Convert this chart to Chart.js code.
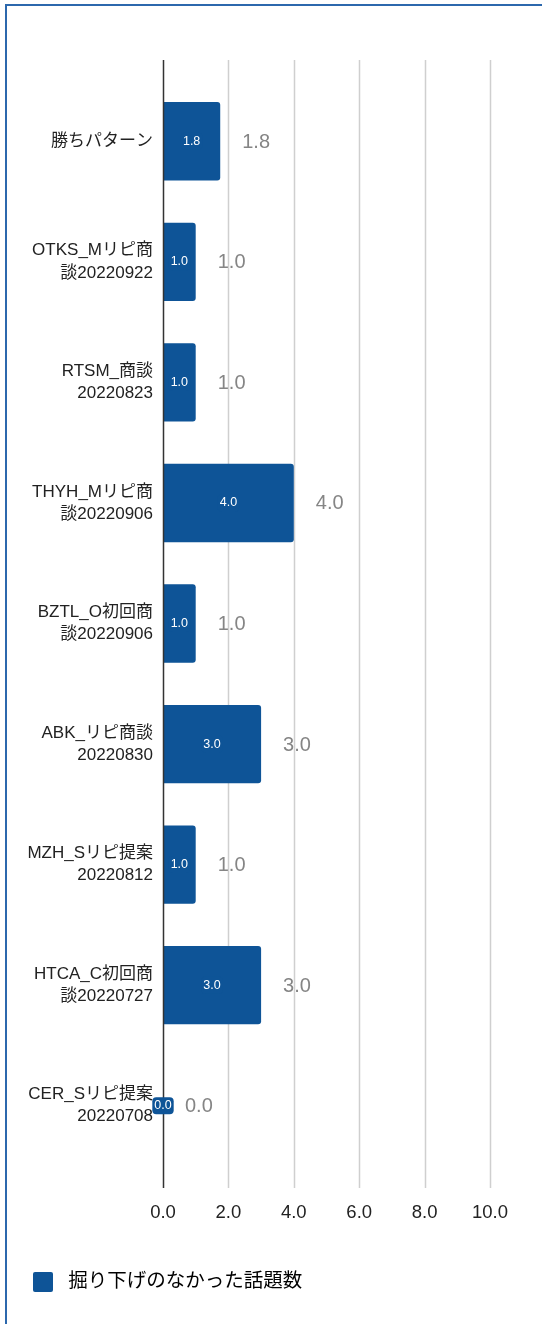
<!DOCTYPE html>
<html>
<head>
<meta charset="utf-8">
<script src="https://cdn.jsdelivr.net/npm/chart.js@4/dist/chart.umd.min.js"></script>
<style>
html, body { margin: 0; padding: 0; background: #fff; overflow: hidden; }
#frame { position: absolute; left: 5px; top: 4px; width: 600px; height: 1400px;
         border-top: 2px solid #2c68ad; border-left: 2px solid #2c68ad; }
#wrap { position: absolute; left: 0; top: 0; width: 542px; height: 1324px; }
</style>
</head>
<body>
<div id="frame"></div>
<div id="wrap"><canvas id="chart"></canvas></div>
<script>
// categories (each one split in the lines shown on the axis)
var categories = [
  ["勝ちパターン"],
  ["OTKS_Mリピ商", "談20220922"],
  ["RTSM_商談", "20220823"],
  ["THYH_Mリピ商", "談20220906"],
  ["BZTL_O初回商", "談20220906"],
  ["ABK_リピ商談", "20220830"],
  ["MZH_Sリピ提案", "20220812"],
  ["HTCA_C初回商", "談20220727"],
  ["CER_Sリピ提案", "20220708"]
];
var values = [1.75, 1.0, 1.0, 4.0, 1.0, 3.0, 1.0, 3.0, 0.0];
var seriesName = "掘り下げのなかった話題数";
var xMin = 0, xMax = 10, xStep = 2;

var barColor = "#0e5497";
var fontFam = "Arial, 'Liberation Sans', 'Noto Sans CJK JP', sans-serif";

// grid lines drawn a bit past the plot area, like the original
var longGrid = {
  id: "longGrid",
  beforeDatasetsDraw: function(chart) {
    var ctx = chart.ctx, a = chart.chartArea, sx = chart.scales.x;
    ctx.save();
    sx.ticks.forEach(function(t) {
      if (t.value === 0) return;
      var px = Math.round(sx.getPixelForValue(t.value)) + 0.5;
      ctx.strokeStyle = "#cfcfcf";
      ctx.lineWidth = 1.5;
      ctx.beginPath();
      ctx.moveTo(px, a.top - 21);
      ctx.lineTo(px, a.bottom + 22);
      ctx.stroke();
    });
    ctx.restore();
  },
  afterDatasetsDraw: function(chart) {
    var ctx = chart.ctx, a = chart.chartArea, sx = chart.scales.x;
    var px = Math.round(sx.getPixelForValue(0)) + 0.5;
    ctx.save();
    ctx.strokeStyle = "#333";
    ctx.lineWidth = 1.5;
    ctx.beginPath();
    ctx.moveTo(px, a.top - 21);
    ctx.lineTo(px, a.bottom + 22);
    ctx.stroke();
    ctx.restore();
  }
};

// value labels: one inside the bar, one after it
var barLabels = {
  id: "barLabels",
  afterDraw: function(chart) {
    var ctx = chart.ctx;
    var meta = chart.getDatasetMeta(0);
    ctx.save();
    meta.data.forEach(function(bar, i) {
      var txt = values[i].toFixed(1);
      var cx = (bar.x + bar.base) / 2;
      ctx.font = "12.5px " + fontFam;
      var w = ctx.measureText(txt).width + 4;
      ctx.fillStyle = barColor;
      ctx.beginPath();
      ctx.roundRect(cx - w / 2, bar.y - 8.5, w, 17, 4);
      ctx.fill();
      ctx.fillStyle = "#fff";
      ctx.textAlign = "center";
      ctx.textBaseline = "middle";
      ctx.fillText(txt, cx, bar.y);

      ctx.font = "20px " + fontFam;
      ctx.fillStyle = "#858585";
      ctx.textAlign = "left";
      ctx.fillText(txt, bar.x + 22, bar.y + 1);
    });
    ctx.restore();
  }
};

new Chart(document.getElementById("chart"), {
  type: "bar",
  data: {
    labels: categories,
    datasets: [{
      label: seriesName,
      data: values,
      backgroundColor: barColor,
      borderRadius: 3,
      borderSkipped: "start",
      barPercentage: 0.65,
      categoryPercentage: 1.0
    }]
  },
  options: {
    indexAxis: "y",
    responsive: true,
    maintainAspectRatio: false,
    animation: false,
    layout: { padding: { top: 81, left: 23, right: 52, bottom: 22 } },
    scales: {
      x: {
        min: xMin, max: xMax,
        ticks: {
          stepSize: xStep,
          color: "#222",
          padding: 28,
          font: { family: fontFam, size: 18.5 },
          callback: function(v) { return Number(v).toFixed(1); }
        },
        grid: { display: false },
        border: { display: false },
        afterFit: function(s) { s.height = 96; }
      },
      y: {
        ticks: {
          color: "#222",
          padding: 2,
          crossAlign: "near",
          font: { family: fontFam, size: 17, lineHeight: 1.3 }
        },
        grid: { display: false },
        border: { display: false },
        afterFit: function(s) { s.width = 140; }
      }
    },
    plugins: {
      legend: {
        position: "bottom",
        align: "start",
        labels: {
          boxWidth: 20,
          boxHeight: 20,
          color: "#333",
          font: { family: fontFam, size: 19.5 },
          generateLabels: function(chart) {
            return [{
              text: " " + seriesName,
              fillStyle: barColor,
              strokeStyle: barColor,
              lineWidth: 0,
              borderRadius: 2,
              datasetIndex: 0
            }];
          }
        }
      },
      tooltip: { enabled: false }
    }
  },
  plugins: [longGrid, barLabels]
});
</script>
</body>
</html>
